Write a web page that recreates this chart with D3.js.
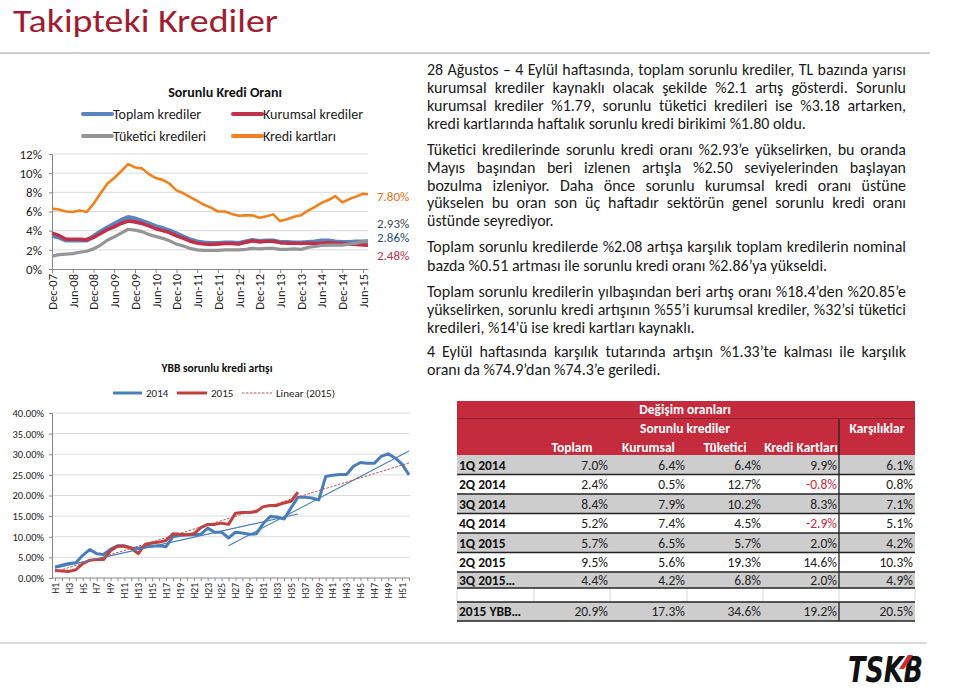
<!DOCTYPE html>
<html><head><meta charset="utf-8">
<script src="https://cdn.jsdelivr.net/npm/d3@7"></script>
<style>
body{margin:0;background:#fff;}
svg{display:block;font-family:Carlito, Lato, "Open Sans", sans-serif;}
</style>
</head><body>
<svg id="c" width="960" height="691"></svg>
<script>
// ---------------- DATA ----------------
const topDates = ["2007-12-01","2008-02-01","2008-04-01","2008-06-01","2008-08-01","2008-10-01","2008-12-01","2009-02-01","2009-04-01","2009-06-01",
"2009-08-01","2009-10-01","2009-12-01","2010-02-01","2010-04-01","2010-06-01","2010-08-01","2010-10-01","2010-12-01","2011-02-01",
"2011-04-01","2011-06-01","2011-08-01","2011-10-01","2011-12-01","2012-02-01","2012-04-01","2012-06-01","2012-08-01","2012-10-01",
"2012-12-01","2013-02-01","2013-04-01","2013-06-01","2013-08-01","2013-10-01","2013-12-01","2014-02-01","2014-04-01","2014-06-01",
"2014-08-01","2014-10-01","2014-12-01","2015-02-01","2015-04-01","2015-06-01","2015-07-15"];
const toplamKrediler = [3.5,3.3,3.0,3.0,3.0,3.0,3.4,3.9,4.3,4.7, 5.1,5.4,5.25,5.0,4.75,4.45,4.25,4.0,3.7,3.35, 3.05,2.85,2.75,2.7,2.7,2.75,2.75,2.7,2.85,3.0, 2.9,2.95,2.95,2.8,2.8,2.75,2.75,2.8,2.85,2.95, 2.95,2.85,2.8,2.8,2.85,2.85,2.86];
const kurumsalKrediler = [3.75,3.5,3.1,3.1,3.1,3.05,3.3,3.7,4.1,4.4, 4.75,5.0,4.9,4.75,4.5,4.2,4.0,3.8,3.45,3.2, 2.9,2.7,2.6,2.55,2.6,2.65,2.65,2.6,2.8,2.95, 2.85,2.9,2.9,2.75,2.7,2.7,2.65,2.7,2.65,2.7, 2.75,2.7,2.65,2.6,2.55,2.5,2.48];
const tuketiciKredileri = [1.35,1.5,1.55,1.6,1.75,1.85,2.1,2.5,3.0,3.35, 3.75,4.15,4.05,3.9,3.6,3.4,3.2,2.95,2.6,2.4, 2.15,2.0,1.95,1.95,1.95,2.0,2.0,2.0,2.05,2.15, 2.1,2.15,2.15,2.05,2.05,2.1,2.05,2.25,2.35,2.45, 2.5,2.5,2.5,2.6,2.7,2.85,2.93];
const krediKartlari = [6.3,6.2,6.0,5.95,6.1,5.95,6.8,7.9,8.9,9.5, 10.2,10.95,10.6,10.5,9.9,9.5,9.3,8.9,8.2,7.9, 7.5,7.1,6.7,6.4,6.0,6.0,5.75,5.55,5.6,5.6, 5.35,5.5,5.7,5.0,5.2,5.45,5.6,6.1,6.45,6.9, 7.2,7.6,6.95,7.3,7.55,7.85,7.80];
const topTickLabels = ["Dec-07","Jun-08","Dec-08","Jun-09","Dec-09","Jun-10","Dec-10","Jun-11","Dec-11","Jun-12","Dec-12","Jun-13","Dec-13","Jun-14","Dec-14","Jun-15"];
const topYTicks = [0,2,4,6,8,10,12];
const topSeriesNames = ["Toplam krediler","Kurumsal krediler","Tüketici kredileri","Kredi kartları"];
const endLabels = ["7.80%","2.93%","2.86%","2.48%"];

const weeks = ["H1","H2","H3","H4","H5","H6","H7","H8","H9","H10","H11","H12","H13","H14","H15","H16","H17","H18","H19","H20",
"H21","H22","H23","H24","H25","H26","H27","H28","H29","H30","H31","H32","H33","H34","H35","H36","H37","H38","H39","H40",
"H41","H42","H43","H44","H45","H46","H47","H48","H49","H50","H51","H52"];
const ybb2014 = [2.7,3.1,3.5,3.7,5.5,6.9,5.9,5.7,7.0,7.8, 7.8,7.3,7.2,7.6,7.7,7.8,7.6,10.0,10.3,10.4, 10.5,10.6,12.1,11.1,11.1,9.7,11.1,10.9,10.6,10.7, 13.2,14.9,14.8,14.3,17.0,19.6,19.6,19.4,18.9,24.6, 24.9,25.1,25.1,27.1,28.0,27.8,27.8,29.5,30.1,29.1, 27.6,25.0];
const ybb2015 = [1.8,1.7,1.6,2.0,3.5,4.3,4.5,4.5,6.6,7.7, 7.7,7.2,5.9,8.2,8.5,8.7,9.1,10.7,10.6,10.5, 10.7,12.2,13.0,13.0,13.3,13.0,15.7,15.9,15.9,16.1, 17.3,17.6,17.6,18.2,18.6,20.8];
const trend2014a = [["H1",2.4],["H36",15.5]];
const trend2014b = [["H26",7.8],["H52",30.8]];
const linear2015 = [["H1",1.5],["H52",27.9]];
const botYTicks = [0,5,10,15,20,25,30,35,40];
const botLegend = ["2014","2015","Linear (2015)"];

const rowLabels = ["1Q 2014","2Q 2014","3Q 2014","4Q 2014","1Q 2015","2Q 2015","3Q 2015…","","2015 YBB…"];
const colToplam   = [7.0,2.4,8.4,5.2,5.7,9.5,4.4,null,20.9];
const colKurumsal = [6.4,0.5,7.9,7.4,6.5,5.6,4.2,null,17.3];
const colTuketici = [6.4,12.7,10.2,4.5,5.7,19.3,6.8,null,34.6];
const colKart     = [9.9,-0.8,8.3,-2.9,2.0,14.6,2.0,null,19.2];
const colKarsilik = [6.1,0.8,7.1,5.1,4.2,10.3,4.9,null,20.5];
const colHeaders = ["Toplam","Kurumsal","Tüketici","Kredi Kartları"];

const paragraphs = [
 ["28 Ağustos – 4 Eylül haftasında, toplam sorunlu krediler, TL bazında yarısı",
  "kurumsal krediler kaynaklı olacak şekilde %2.1 artış gösterdi. Sorunlu",
  "kurumsal krediler %1.79, sorunlu tüketici kredileri ise %3.18 artarken,",
  "kredi kartlarında haftalık sorunlu kredi birikimi %1.80 oldu."],
 ["Tüketici kredilerinde sorunlu kredi oranı %2.93’e yükselirken, bu oranda",
  "Mayıs başından beri izlenen artışla %2.50 seviyelerinden başlayan",
  "bozulma izleniyor. Daha önce sorunlu kurumsal kredi oranı üstüne",
  "yükselen bu oran son üç haftadır sektörün genel sorunlu kredi oranı",
  "üstünde seyrediyor."],
 ["Toplam sorunlu kredilerde %2.08 artışa karşılık toplam kredilerin nominal",
  "bazda %0.51 artması ile sorunlu kredi oranı %2.86’ya yükseldi."],
 ["Toplam sorunlu kredilerin yılbaşından beri artış oranı %18.4’den %20.85’e",
  "yükselirken, sorunlu kredi artışının %55’i kurumsal krediler, %32’si tüketici",
  "kredileri, %14’ü ise kredi kartları kaynaklı."],
 ["4 Eylül haftasında karşılık tutarında artışın %1.33’te kalması ile karşılık",
  "oranı da %74.9’dan %74.3’e geriledi."]
];

// ---------------- DRAW ----------------
const svg = d3.select("#c");
const RED = "#a11c33";

svg.append("text").attr("x",13).attr("y",32).attr("font-size",32).attr("fill",RED)
  .attr("textLength",265).attr("lengthAdjust","spacingAndGlyphs").text("Takipteki Krediler");
svg.append("line").attr("x1",0).attr("x2",930).attr("y1",53).attr("y2",53).attr("stroke","#bdbdbd").attr("stroke-width",1.5);
svg.append("line").attr("x1",0).attr("x2",927).attr("y1",643).attr("y2",643).attr("stroke","#b5b5b5").attr("stroke-width",1.2);

// ---------- Top chart ----------
(function(){
  const g = svg.append("g");
  const parse = d3.timeParse("%Y-%m-%d");
  const tParse = d3.timeParse("%b-%y");
  const dates = topDates.map(parse);
  const x = d3.scaleTime().domain([dates[0], dates[dates.length-1]]).range([52,368]);
  const y = d3.scaleLinear().domain([0,12]).range([269,154]);
  g.append("text").attr("x",225).attr("y",97).attr("text-anchor","middle").attr("font-size",14).attr("font-weight","bold").attr("fill","#111").text("Sorunlu Kredi Oranı");
  g.selectAll(".gl").data(topYTicks.filter(d=>d>0)).join("line")
    .attr("x1",52).attr("x2",368).attr("y1",d=>y(d)).attr("y2",d=>y(d)).attr("stroke","#d9d9d9").attr("stroke-width",1);
  const yAx = g.append("g").attr("transform","translate(52,0)")
    .call(d3.axisLeft(y).tickValues(topYTicks).tickFormat(d=>d+"%").tickSize(3).tickPadding(7));
  yAx.select(".domain").attr("stroke","#888");
  yAx.selectAll(".tick line").attr("stroke","#888");
  yAx.selectAll("text").attr("font-size",13).attr("fill","#222").attr("font-family","Carlito, Lato, sans-serif");
  const xAx = g.append("g").attr("transform","translate(0,269)")
    .call(d3.axisBottom(x).tickValues(topTickLabels.map(tParse)).tickFormat(d3.timeFormat("%b-%y")).tickSize(4).tickSizeOuter(0));
  xAx.select(".domain").attr("stroke","#888");
  xAx.selectAll(".tick line").attr("stroke","#888");
  xAx.selectAll("text").attr("font-size",12.5).attr("fill","#222").attr("font-family","Carlito, Lato, sans-serif")
    .attr("transform","rotate(-90)").attr("text-anchor","end").attr("x",-5).attr("y",0).attr("dy","0.35em");
  const series = [
    {v:toplamKrediler, c:"#5a84bd", w:4.5},
    {v:kurumsalKrediler, c:"#c0304a", w:3.5},
    {v:tuketiciKredileri, c:"#959595", w:3.2},
    {v:krediKartlari, c:"#ee8220", w:2.6}
  ];
  const line = d3.line().x((d,i)=>x(dates[i])).y(d=>y(d));
  series.forEach(s=>{
    g.append("path").attr("d",line(s.v)).attr("fill","none").attr("stroke",s.c).attr("stroke-width",s.w).attr("stroke-linejoin","round");
  });
  const leg = [
    {n:topSeriesNames[0], c:"#5a84bd", x:83, y:114},
    {n:topSeriesNames[1], c:"#c0304a", x:233, y:114},
    {n:topSeriesNames[2], c:"#959595", x:83, y:136},
    {n:topSeriesNames[3], c:"#ee8220", x:233, y:136}
  ];
  leg.forEach(l=>{
    g.append("line").attr("x1",l.x).attr("x2",l.x+29).attr("y1",l.y).attr("y2",l.y).attr("stroke",l.c).attr("stroke-width",4).attr("stroke-linecap","round");
    g.append("text").attr("x",l.x+30).attr("y",l.y+4.5).attr("font-size",14).attr("fill","#222").text(l.n);
  });
  const labCols = ["#e4701a","#3b4658","#2b4f82","#c0304a"];
  const labY = [196,223,237,255];
  endLabels.forEach((t,i)=>{
    g.append("text").attr("x",377).attr("y",labY[i]+4.5).attr("font-size",13).attr("fill",labCols[i]).text(t);
  });
})();

// ---------- Bottom chart ----------
(function(){
  const g = svg.append("g");
  const x = d3.scalePoint().domain(weeks).range([55,409]);
  const y = d3.scaleLinear().domain([0,40]).range([578,413]);
  g.append("text").attr("x",217).attr("y",372).attr("text-anchor","middle").attr("font-size",11.5).attr("font-weight","bold").attr("fill","#111").text("YBB sorunlu kredi artışı");
  g.selectAll(".gl").data(botYTicks.filter(d=>d>0)).join("line")
    .attr("x1",52).attr("x2",410).attr("y1",d=>y(d)).attr("y2",d=>y(d)).attr("stroke","#dcdcdc");
  const yAx = g.append("g").attr("transform","translate(52,0)")
    .call(d3.axisLeft(y).tickValues(botYTicks).tickFormat(d=>d.toFixed(2)+"%").tickSize(3).tickPadding(5));
  yAx.select(".domain").attr("stroke","#888");
  yAx.selectAll(".tick line").attr("stroke","#888");
  yAx.selectAll("text").attr("font-size",10.5).attr("fill","#222").attr("font-family","Carlito, Lato, sans-serif");
  const xAx = g.append("g").attr("transform","translate(0,578)")
    .call(d3.axisBottom(x).tickValues(weeks).tickFormat((d,i)=> i%2===0 ? d : "").tickSize(3).tickSizeOuter(0));
  xAx.select(".domain").attr("stroke","#888").attr("d","M52,0H410");
  xAx.selectAll(".tick line").attr("stroke","#888");
  xAx.selectAll("text").attr("font-size",9.5).attr("fill","#222").attr("font-family","Carlito, Lato, sans-serif")
    .attr("transform","rotate(-90)").attr("text-anchor","end").attr("x",-5).attr("y",0).attr("dy","0.35em");
  const line = d3.line().x((d,i)=>x(weeks[i])).y(d=>y(d));
  const tl = d3.line().x(d=>x(d[0])).y(d=>y(d[1]));
  g.append("path").attr("d",line(ybb2014)).attr("fill","none").attr("stroke","#4a7ebb").attr("stroke-width",3).attr("stroke-linejoin","round");
  g.append("path").attr("d",line(ybb2015)).attr("fill","none").attr("stroke","#c0403f").attr("stroke-width",3).attr("stroke-linejoin","round");
  [trend2014a, trend2014b].forEach(t=>{
    g.append("path").attr("d",tl(t)).attr("stroke","#4a7ebb").attr("stroke-width",1.1).attr("fill","none");
  });
  g.append("path").attr("d",tl(linear2015)).attr("stroke","#c0504d").attr("stroke-width",1).attr("stroke-dasharray","2.5,1.5").attr("fill","none");
  const ly = 393;
  g.append("line").attr("x1",113).attr("x2",142).attr("y1",ly).attr("y2",ly).attr("stroke","#4a7ebb").attr("stroke-width",3);
  g.append("text").attr("x",146).attr("y",ly+4).attr("font-size",11).attr("fill","#222").text(botLegend[0]);
  g.append("line").attr("x1",177).attr("x2",207).attr("y1",ly).attr("y2",ly).attr("stroke","#c0403f").attr("stroke-width",3);
  g.append("text").attr("x",211).attr("y",ly+4).attr("font-size",11).attr("fill","#222").text(botLegend[1]);
  g.append("line").attr("x1",242).attr("x2",272).attr("y1",ly).attr("y2",ly).attr("stroke","#c0504d").attr("stroke-width",1).attr("stroke-dasharray","2.5,1.5");
  g.append("text").attr("x",276).attr("y",ly+4).attr("font-size",11).attr("fill","#222").text(botLegend[2]);
})();

// ---------- Text block ----------
(function(){
  const g = svg.append("g").attr("fill","#1a1a1a");
  const X0 = 427, W = 479;
  const probe = g.append("text").attr("font-size",16).text(paragraphs[0][3]);
  const fs = 16 * 379 / probe.node().getComputedTextLength();
  probe.remove();
  g.attr("font-size",fs);
  const baselines = [[75,93,111,129],[155,173,191,208,226],[252,271],[297,315,333],[357,375]];
  paragraphs.forEach((p,pi)=>{
    p.forEach((ln,li)=>{
      const yy = baselines[pi][li];
      const t = g.append("text").attr("x",X0).attr("y",yy).text(ln);
      if(li < p.length-1){
        const nat = t.node().getComputedTextLength();
        const nSp = ln.split(" ").length-1;
        t.attr("word-spacing", (W-nat)/nSp);
      }
    });
  });
})();

// ---------- Table ----------
(function(){
  const g = svg.append("g");
  const TR = "#c42b3d";
  const L = 457, R = 915;
  const colX = [457,534,610,687,763,839,915];
  g.append("rect").attr("x",L).attr("y",401).attr("width",R-L).attr("height",54).attr("fill",TR);
  g.append("line").attr("x1",L).attr("x2",R).attr("y1",418.5).attr("y2",418.5).attr("stroke","#8e1f2c").attr("stroke-width",1);
  const hdr = (t,x,y)=>g.append("text").attr("x",x).attr("y",y).attr("text-anchor","middle").attr("font-size",13.5).attr("font-weight","bold").attr("fill","#fff").text(t);
  hdr("Değişim oranları",685,414);
  hdr("Sorunlu krediler",685,433);
  hdr("Karşılıklar",877,433);
  colHeaders.forEach((h,i)=>hdr(h,(colX[i+1]+colX[i+2])/2,452));
  const tops = [455,474.5,494,513.5,533,552.5,572,588,602];
  const hs   = [19.5,19.5,19.5,19.5,19.5,19.5,16,14,19];
  const cols = [colToplam,colKurumsal,colTuketici,colKart,colKarsilik];
  rowLabels.forEach((lab,r)=>{
    const gray = (r%2===0);
    g.append("rect").attr("x",L).attr("y",tops[r]).attr("width",R-L).attr("height",hs[r]).attr("fill", gray ? "#cdcdcd" : "#fff");
    const by = tops[r]+hs[r]/2+4.8;
    if(lab==="") {
      colX.forEach(cx=>g.append("line").attr("x1",cx).attr("x2",cx).attr("y1",tops[r]).attr("y2",tops[r]+hs[r]).attr("stroke","#d6d6d6"));
      return;
    }
    g.append("text").attr("x",459).attr("y",by).attr("font-size",13.5).attr("font-weight","bold").attr("fill","#111").text(lab);
    cols.forEach((c,ci)=>{
      const v = c[r];
      g.append("text").attr("x",colX[ci+2]-2).attr("y",by).attr("text-anchor","end").attr("font-size",13.5)
        .attr("fill", v<0 ? "#c42b3d" : "#222").text(v.toFixed(1)+"%");
    });
  });
  [474.5,494,513.5,533,552.5,572,588,602,621].forEach(yy=>{
    g.append("line").attr("x1",L).attr("x2",R).attr("y1",yy).attr("y2",yy).attr("stroke","#222").attr("stroke-width",1.3);
  });
  g.append("line").attr("x1",839).attr("x2",839).attr("y1",419).attr("y2",588).attr("stroke","#222").attr("stroke-width",1.3);
  g.append("line").attr("x1",839).attr("x2",839).attr("y1",602).attr("y2",621).attr("stroke","#222").attr("stroke-width",1.3);
})();

// ---------- Logo ----------
(function(){
  const g = svg.append("g");
  g.append("text").attr("x",848).attr("y",682).attr("font-family","'DejaVu Sans', 'Liberation Sans', sans-serif")
    .attr("font-weight","bold").attr("font-style","italic").attr("font-size",36)
    .attr("textLength",75).attr("lengthAdjust","spacingAndGlyphs").attr("fill","#111").text("TSKB");
  g.append("path").attr("d","M899,669 L908,655 L913,655 L904,669 Z").attr("fill","#d42a2a");
})();
</script>
</body></html>
